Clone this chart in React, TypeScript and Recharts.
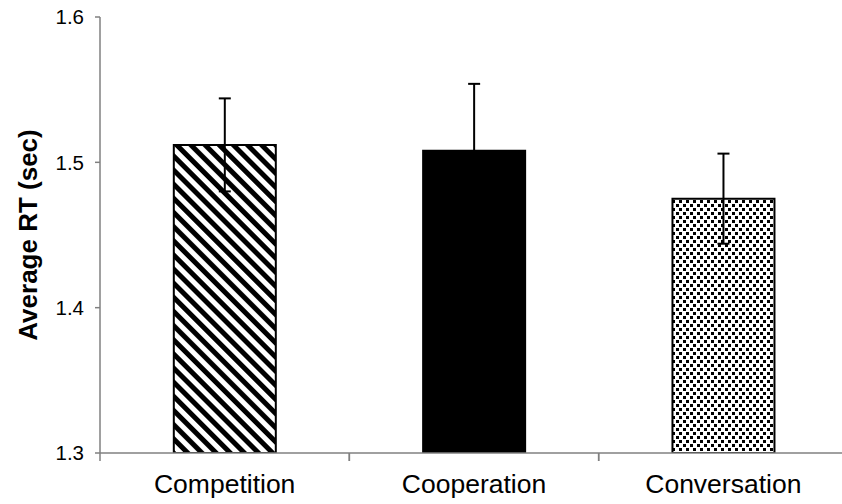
import { BarChart, Bar, XAxis, YAxis, ErrorBar, Cell } from "recharts";

const conditions = ["Competition", "Cooperation", "Conversation"];
const avgRt = [1.512, 1.508, 1.475];
const rtError = [0.032, 0.046, 0.031];
const yTicks = [1.3, 1.4, 1.5, 1.6];

const fills = ["url(#stripes)", "#000000", "url(#dots)"];
const font = '"Liberation Sans", Arial, sans-serif';
const axisGrey = "#808080";
const LABEL_GAP = 21;

const data = conditions.map((name, i) => ({
  name,
  rt: avgRt[i],
  err: rtError[i]
}));

// category label at band centre, tick mark at the left edge of each band (Excel style)
function CategoryTick(props: any) {
  const { x, y, width, visibleTicksCount, payload } = props;
  const half = width / visibleTicksCount / 2;
  const axisY = y - LABEL_GAP;
  return (
    <g>
      <line x1={x - half} x2={x - half} y1={axisY} y2={axisY + 8} stroke={axisGrey} strokeWidth={1.5} />
      <line x1={x + half} x2={x + half} y1={axisY} y2={axisY + 8} stroke={axisGrey} strokeWidth={1.5} />
      <text
        x={x}
        y={y}
        dy="0.71em"
        textAnchor="middle"
        fill="#000"
        fontSize={26.5}
        fontFamily={font}
      >
        {payload.value}
      </text>
    </g>
  );
}

export default function App() {
  return (
    <div
      style={{
        position: "absolute",
        left: 0,
        top: 0,
        width: 842,
        height: 504,
        overflow: "hidden",
        background: "#fff"
      }}
    >
      <BarChart
        width={850}
        height={504}
        data={data}
        margin={{ top: 17, right: 2, left: 0, bottom: 50 }}
        barCategoryGap="29.6%"
        style={{ fontFamily: font }}
      >
        <defs>
          <pattern
            id="stripes"
            patternUnits="userSpaceOnUse"
            width={10}
            height={10}
            patternTransform="rotate(-45)"
          >
            <rect width={10} height={10} fill="#fff" />
            <rect width={5} height={10} fill="#000" />
          </pattern>
          <pattern id="dots" patternUnits="userSpaceOnUse" width={7} height={8}>
            <rect width={7} height={8} fill="#fff" />
            <rect x={0} y={0} width={3} height={3} fill="#000" />
            <rect x={4} y={4} width={3} height={3} fill="#000" />
          </pattern>
        </defs>
        <XAxis
          dataKey="name"
          height={1}
          tickLine={false}
          tickSize={0}
          tickMargin={LABEL_GAP}
          axisLine={{ stroke: axisGrey, strokeWidth: 1.5 }}
          tick={<CategoryTick />}
        />
        <YAxis
          width={100}
          domain={[1.3, 1.6]}
          ticks={yTicks}
          allowDataOverflow
          tickSize={5}
          tickMargin={11}
          axisLine={{ stroke: axisGrey, strokeWidth: 1.5 }}
          tickLine={{ stroke: axisGrey, strokeWidth: 1.5 }}
          tick={{ fill: "#000", fontSize: 20.5, fontFamily: font }}
          tickFormatter={(v) => Number(v).toFixed(1)}
          label={{
            value: "Average RT (sec)",
            angle: -90,
            position: "insideLeft",
            offset: 28,
            style: {
              textAnchor: "middle",
              fontSize: 26,
              fontWeight: "bold",
              fontFamily: font,
              fill: "#000"
            }
          }}
        />
        <Bar dataKey="rt" stroke="#000" strokeWidth={2} isAnimationActive={false}>
          {data.map((d, i) => (
            <Cell key={d.name} fill={fills[i]} />
          ))}
          <ErrorBar dataKey="err" width={6} stroke="#000" strokeWidth={2} />
        </Bar>
      </BarChart>
    </div>
  );
}
